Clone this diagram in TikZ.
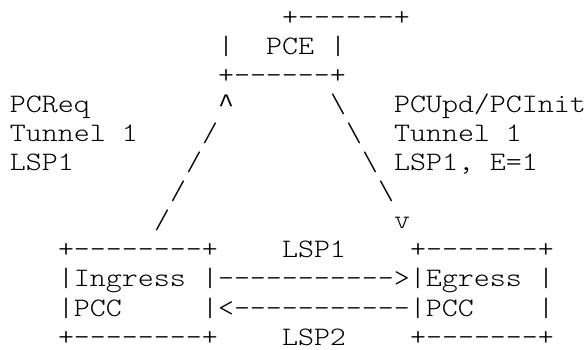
\documentclass[tikz,border=0pt]{standalone}
\usepackage{fontspec}
\newfontfamily\ascfont{lmmonolt10-regular.otf}[FakeStretch=1.143]
\newfontfamily\caretfont{Liberation Mono}
\begin{document}
\begin{tikzpicture}[x=0.5pt,y=-0.5pt,
  asc/.style={anchor=base west,inner sep=0pt,outer sep=0pt,font=\fontsize{13.33}{14}\selectfont\ascfont}]
\useasboundingbox (0,0) rectangle (588,349);
% column c -> x = 10 + 16 c ; line i -> baseline y = 25 + 29.1 (i-1)
% line 1
\node[asc] (pcetop) at (282,25) {+------+};
% line 2
\node[asc] (pcel) at (218,54.1) {|};
\node[asc] (pce) at (266,54.1) {PCE};
\node[asc] (pcer) at (330,54.1) {|};
% line 3
\node[asc] (pcebot) at (218,83.2) {+------+};
% line 4
\node[asc] (req1) at (10,112.3) {PCReq};
\node[asc,font=\fontsize{13.33}{14}\selectfont\caretfont] (up) at (218,112.3) {\textasciicircum};
\node[asc] (bs1) at (330,112.3) {\textbackslash};
\node[asc] (upd1) at (394,112.3) {PCUpd/PCInit};
% line 5
\node[asc] (req2) at (10,141.4) {Tunnel 1};
\node[asc] (sl1) at (202,141.4) {/};
\node[asc] (bs2) at (346,141.4) {\textbackslash};
\node[asc] (upd2) at (394,141.4) {Tunnel 1};
% line 6
\node[asc] (req3) at (10,170.5) {LSP1};
\node[asc] (sl2) at (186,170.5) {/};
\node[asc] (bs3) at (362,170.5) {\textbackslash};
\node[asc] (upd3) at (394,170.5) {LSP1, E=1};
% line 7
\node[asc] (sl3) at (170,199.6) {/};
\node[asc] (bs4) at (378,199.6) {\textbackslash};
% line 8
\node[asc] (sl4) at (154,228.7) {/};
\node[asc] (down) at (394,228.7) {v};
% line 9
\node[asc] (ingtop) at (58,257.8) {+--------+};
\node[asc] (lsp1) at (282,257.8) {LSP1};
\node[asc] (egrtop) at (410,257.8) {+-------+};
% line 10
\node[asc] (ing1) at (58,286.9) {|Ingress};
\node[asc] (fwd) at (202,286.9) {|----------->|Egress};
\node[asc] (egr1) at (538,286.9) {|};
% line 11
\node[asc] (ing2) at (58,316) {|PCC};
\node[asc] (bwd) at (202,316) {|<-----------|PCC};
\node[asc] (egr2) at (538,316) {|};
% line 12
\node[asc] (ingbot) at (58,345.1) {+--------+};
\node[asc] (lsp2) at (282,345.1) {LSP2};
\node[asc] (egrbot) at (410,345.1) {+-------+};
\end{tikzpicture}
\end{document}
